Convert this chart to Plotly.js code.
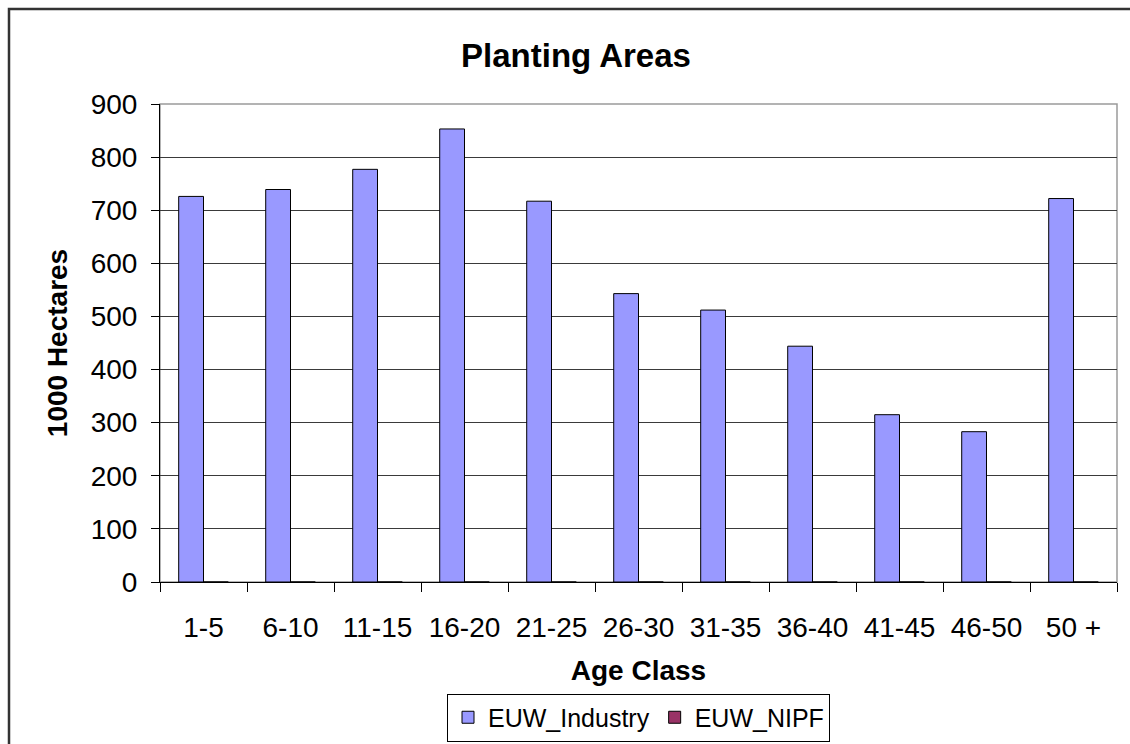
<!DOCTYPE html>
<html>
<head>
<meta charset="utf-8">
<script src="https://cdn.plot.ly/plotly-3.0.1.min.js"></script>
<style>
  html, body { margin: 0; padding: 0; background: #ffffff; }
  #chart { width: 1130px; height: 744px; }
</style>
</head>
<body>
<div id="chart"></div>
<script>
// ---- data ----
const ageClasses = ["1-5", "6-10", "11-15", "16-20", "21-25", "26-30", "31-35", "36-40", "41-45", "46-50", "50 +"];
const industryValues = [726, 739, 777, 853, 717, 543, 512, 444, 315, 283, 722];
const nipfValues = [0, 0, 0, 0, 0, 0, 0, 0, 0, 0, 0];
const seriesNames = ["EUW_Industry", "EUW_NIPF"];
const chartTitle = "Planting Areas";
const xTitle = "Age Class";
const yTitle = "1000 Hectares";

// ---- layout constants ----
const W = 1130, H = 744;
const M = { l: 160, r: 13, t: 104, b: 162 };
const pw = W - M.l - M.r, ph = H - M.t - M.b;
const px2x = p => (p - M.l) / pw;
const py2y = p => (H - M.b - p) / ph;

const FONT = "Arial, 'Liberation Sans', sans-serif";

const traces = [
  {
    type: "bar",
    name: seriesNames[0],
    x: ageClasses,
    y: industryValues,
    marker: { color: "#9999FF", line: { color: "#000000", width: 1 } },
    hoverinfo: "x+y+name"
  },
  {
    type: "bar",
    name: seriesNames[1],
    x: ageClasses,
    y: nipfValues,
    marker: { color: "#993366", line: { color: "#000000", width: 1 } },
    hoverinfo: "x+y+name"
  }
];

const layout = {
  width: W,
  height: H,
  margin: M,
  paper_bgcolor: "#ffffff",
  plot_bgcolor: "#ffffff",
  font: { family: FONT, color: "#000000", size: 28 },
  barmode: "group",
  bargap: 0.43,
  bargroupgap: 0,
  showlegend: true,
  title: {
    text: "<b>" + chartTitle + "</b>",
    font: { family: FONT, size: 33, color: "#000000" },
    xref: "paper",
    x: px2x(576),
    xanchor: "center",
    yref: "container",
    y: 1 - 55 / H,
    yanchor: "middle",
    automargin: false
  },
  xaxis: {
    type: "category",
    showgrid: false,
    showline: true,
    linecolor: "#000000",
    linewidth: 1,
    ticks: "outside",
    ticklen: 9,
    tickcolor: "#000000",
    tickwidth: 1,
    tickson: "boundaries",
    tickfont: { family: FONT, size: 28, color: "#000000" },
    ticklabelstandoff: 20,
    title: {
      text: "<b>" + xTitle + "</b>",
      font: { family: FONT, size: 28, color: "#000000" },
      standoff: 18
    },
    automargin: false,
    fixedrange: true
  },
  yaxis: {
    range: [0, 900],
    dtick: 100,
    tick0: 0,
    showgrid: true,
    gridcolor: "#3a3a3a",
    gridwidth: 1,
    zeroline: false,
    showline: true,
    linecolor: "#000000",
    linewidth: 1,
    ticks: "outside",
    ticklen: 8,
    tickcolor: "#000000",
    tickwidth: 1,
    tickfont: { family: FONT, size: 28, color: "#000000" },
    ticklabelstandoff: 8,
    title: {
      text: "<b>" + yTitle + "</b>",
      font: { family: FONT, size: 28, color: "#000000" },
      standoff: 14
    },
    automargin: false,
    fixedrange: true
  },
  legend: {
    orientation: "h",
    xref: "container",
    x: 638.5 / W,
    xanchor: "center",
    yref: "container",
    y: 1 - 717.5 / H,
    yanchor: "middle",
    bordercolor: "#000000",
    borderwidth: 1,
    bgcolor: "#ffffff",
    font: { family: FONT, size: 25, color: "#000000" },
    itemwidth: 30,
    tracegroupgap: 0,
    traceorder: "normal"
  },
  shapes: [
    // plot-area border (gray)
    {
      type: "rect", xref: "paper", yref: "paper",
      x0: 0, x1: 1, y0: 0, y1: 1,
      line: { color: "#9a9a9a", width: 1.5 },
      layer: "below"
    },
    // chart-area outer border
    {
      type: "rect", xref: "paper", yref: "paper",
      x0: px2x(9), x1: px2x(W + 20),
      y0: py2y(H + 20), y1: py2y(9),
      line: { color: "#333333", width: 2.5 },
      layer: "below"
    }
  ]
};

Plotly.newPlot("chart", traces, layout, { displayModeBar: false, staticPlot: true });
</script>
</body>
</html>
